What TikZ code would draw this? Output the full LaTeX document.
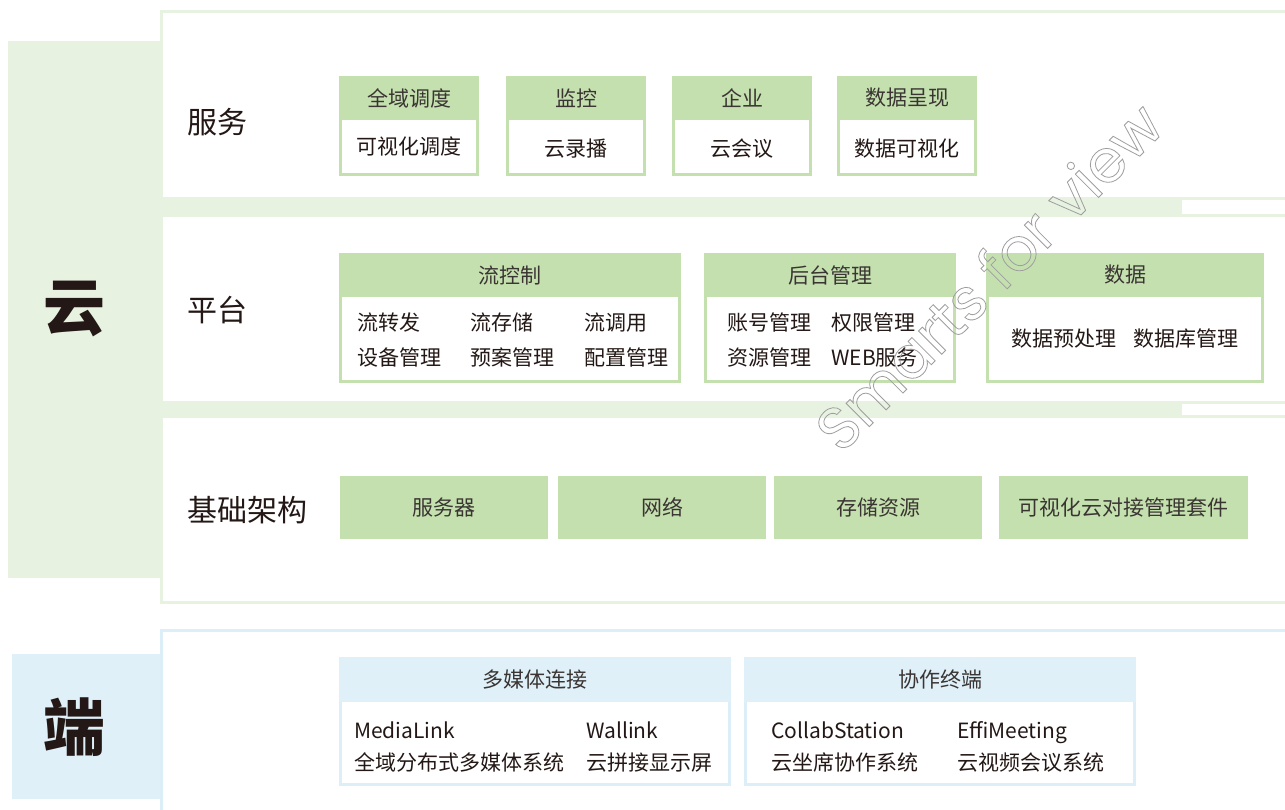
\documentclass[tikz,border=0pt]{standalone}
\usepackage{fontspec}
\setmainfont{Noto Sans CJK SC}
\newfontfamily\wmfont{Poppins}
\definecolor{pgreen}{HTML}{E7F2E1}
\definecolor{hgreen}{HTML}{C5E0AF}
\definecolor{pblue}{HTML}{DFF0F8}
\definecolor{bborder}{HTML}{DCEEF7}
\definecolor{txt}{HTML}{231815}
\definecolor{htxt}{HTML}{3A3533}
\newcommand\outl[1]{\special{pdf:literal direct 1 Tr 0.8 w 0.62 0.62 0.62 RG}#1\special{pdf:literal direct 0 Tr}}
\tikzset{
  fsz/.style={font=\fontsize{#1pt}{#1pt}\selectfont},
  frame/.style={line width=3pt, fill=white, inner sep=0pt, anchor=north west},
  hdr/.style={draw=none, inner sep=0pt, outer sep=0pt, anchor=north west, text=htxt, fsz=21},
  item/.style={inner sep=0pt, anchor=west, text=txt, fsz=21, text height=18pt, text depth=3pt},
  citem/.style={inner sep=0pt, anchor=center, text=txt, fsz=21, text height=18pt, text depth=3pt},
  lbl/.style={inner sep=0pt, anchor=west, text=txt, fsz=30, text height=26pt, text depth=4pt},
  big/.style={inner sep=0pt, anchor=center, text=txt, font=\fontsize{62pt}{62pt}\selectfont\bfseries},
  infra/.style={fill=hgreen, inner sep=0pt, outer sep=0pt, anchor=north west, minimum height=63pt, text=htxt, fsz=21},
}
% name, x1, y1, x2, y2, yh, title, header fill, border
\newcommand\hdrbox[9]{%
  \pgfmathsetmacro\bw{#4-#2}\pgfmathsetmacro\bh{#5-#3}\pgfmathsetmacro\hh{#6-#3}%
  \node[frame, draw=#9, minimum width=\bw-3, minimum height=\bh-3] (#1) at (#2,#3) {};
  \node[hdr, fill=#8, minimum width=\bw, minimum height=\hh] (#1h) at (#2,#3) {#7};
}
\begin{document}
\begin{tikzpicture}[x=1pt,y=-1pt]
\useasboundingbox (0,0) rectangle (1285,809);
\clip (0,0) rectangle (1285,809);
\fill[white] (0,0) rectangle (1285,809);

% ---------- cloud ----------
\fill[pgreen] (8,41) rectangle (160,578);
\draw[draw=pgreen, line width=3pt, fill=white] (161.5,11.5) rectangle (1295,602.5);
\fill[pgreen] (160,197) rectangle (1180,217);
\draw[draw=pgreen, line width=3pt, fill=white] (1180,198.5) rectangle (1295,215.5);
\fill[pgreen] (160,401) rectangle (1180,418);
\draw[draw=pgreen, line width=3pt, fill=white] (1180,402.5) rectangle (1295,416.5);
\node[big] (yun) at (74,309) {云};

\node[lbl] (lfw) at (187,122) {服务};
\node[lbl] (lpt) at (187,310) {平台};
\node[lbl] (ljc) at (187,510) {基础架构};

% service
\hdrbox{s1}{339}{76}{479}{176}{120}{全域调度}{hgreen}{hgreen}
\hdrbox{s2}{506}{76}{646}{176}{120}{监控}{hgreen}{hgreen}
\hdrbox{s3}{672}{76}{812}{176}{120}{企业}{hgreen}{hgreen}
\hdrbox{s4}{837}{76}{977}{176}{120}{数据呈现}{hgreen}{hgreen}
\node[citem] (s1b) at (409,147) {可视化调度};
\node[citem] (s2b) at (576,149) {云录播};
\node[citem] (s3b) at (742,149) {云会议};
\node[citem] (s4b) at (907,149) {数据可视化};

% platform
\hdrbox{p1}{339}{253}{681}{383}{297}{流控制}{hgreen}{hgreen}
\hdrbox{p2}{704}{253}{956}{383}{297}{后台管理}{hgreen}{hgreen}
\hdrbox{p3}{986}{253}{1264}{383}{297}{数据}{hgreen}{hgreen}
\node[item] (p1a) at (357,323) {流转发};
\node[item] (p1b) at (470,323) {流存储};
\node[item] (p1c) at (584,323) {流调用};
\node[item] (p1d) at (357,358) {设备管理};
\node[item] (p1e) at (470,358) {预案管理};
\node[item] (p1f) at (584,358) {配置管理};
\node[item] (p2a) at (727,323) {账号管理};
\node[item] (p2b) at (831,323) {权限管理};
\node[item] (p2c) at (727,358) {资源管理};
\node[item] (p2d) at (831,358) {WEB服务};
\node[item] (p3a) at (1011,339) {数据预处理};
\node[item] (p3b) at (1133,339) {数据库管理};

% infrastructure
\node[infra, minimum width=208pt] (i1) at (340,476) {服务器};
\node[infra, minimum width=208pt] (i2) at (558,476) {网络};
\node[infra, minimum width=208pt] (i3) at (774,476) {存储资源};
\node[infra, minimum width=249pt] (i4) at (999,476) {可视化云对接管理套件};

% ---------- terminal ----------
\draw[draw=bborder, line width=3pt, fill=white] (161.5,630.5) rectangle (1295,830);
\fill[pblue] (12,654) rectangle (160,799);
\node[big] (duan) at (74,727) {端};

\hdrbox{t1}{339}{657}{731}{786}{702}{多媒体连接}{pblue}{bborder}
\hdrbox{t2}{744}{657}{1136}{786}{702}{协作终端}{pblue}{bborder}
\node[item] (t1a) at (354,731) {MediaLink};
\node[item] (t1b) at (354,763) {全域分布式多媒体系统};
\node[item] (t1c) at (586,731) {Wallink};
\node[item] (t1d) at (586,763) {云拼接显示屏};
\node[item] (t2a) at (771,731) {CollabStation};
\node[item] (t2b) at (771,763) {云坐席协作系统};
\node[item] (t2c) at (957,731) {EffiMeeting};
\node[item] (t2d) at (957,763) {云视频会议系统};

% watermark
\node[rotate=45, inner sep=0pt, text=gray!40, font=\wmfont\fontsize{60pt}{60pt}\selectfont] (wm) at (988,276) {\outl{Smarts for view}};
\end{tikzpicture}
\end{document}
